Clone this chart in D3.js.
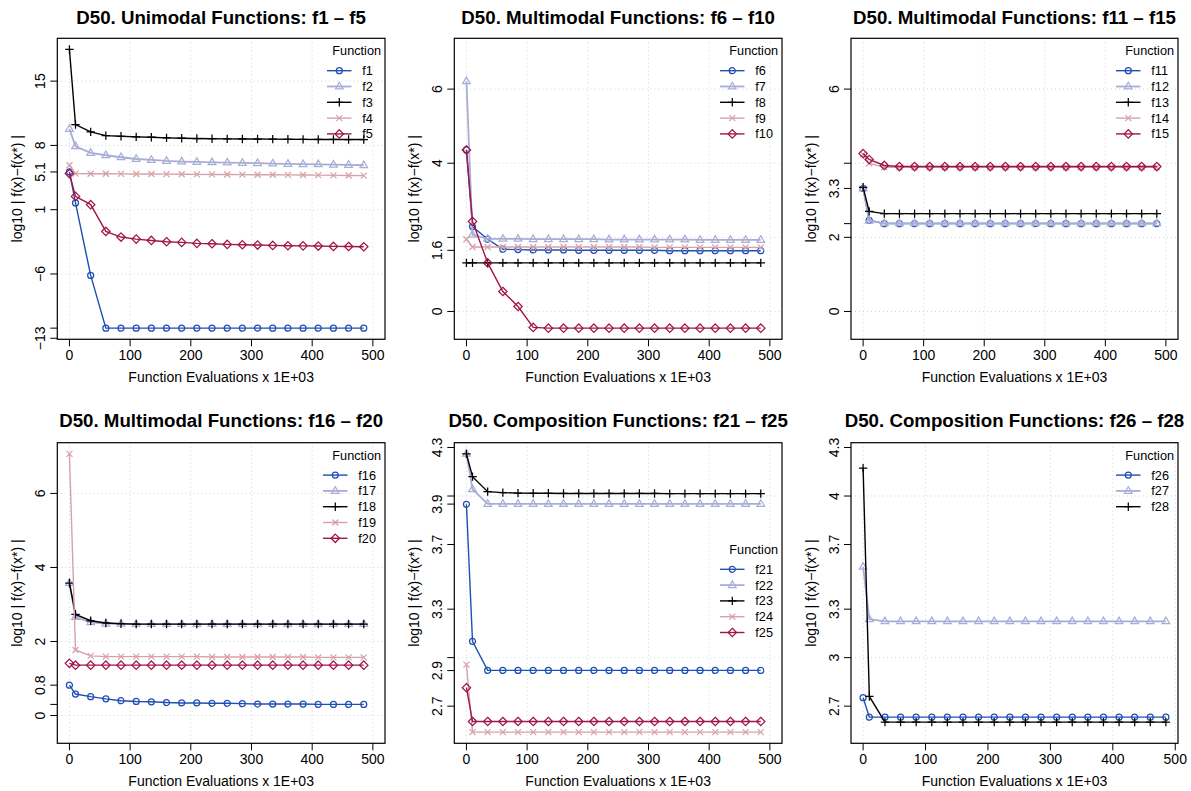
<html>
<head>
<meta charset="utf-8">
<style>
  body { margin: 0; background: #fff; }
  text { font-family: "Liberation Sans", Arial, Helvetica, sans-serif; }
</style>
</head>
<body>
<script src="https://cdn.jsdelivr.net/npm/d3@7"></script>
<script>
// function evaluations (x 1E+03)
var evals = [0,10,35,60,85,110,135,160,185,210,235,260,285,310,335,360,385,410,435,460,485];

// log10 |f(x)-f(x*)|
var f1 = [5.11,1.73,-6.16,-11.90,-11.90,-11.90,-11.90,-11.90,-11.90,-11.90,-11.90,-11.90,-11.90,-11.90,-11.90,-11.90,-11.90,-11.90,-11.90,-11.90,-11.90];
var f2 = [9.80,7.91,7.18,6.93,6.71,6.52,6.42,6.31,6.24,6.20,6.16,6.13,6.09,6.06,6.02,5.99,5.96,5.94,5.91,5.88,5.84];
var f3 = [18.45,10.27,9.47,9.07,8.99,8.93,8.89,8.82,8.78,8.75,8.73,8.71,8.70,8.69,8.68,8.67,8.66,8.65,8.65,8.64,8.64];
var f4 = [5.84,4.93,4.92,4.91,4.90,4.89,4.88,4.87,4.86,4.85,4.84,4.83,4.82,4.81,4.80,4.79,4.78,4.76,4.74,4.72,4.71];
var f5 = [4.93,2.45,1.55,-1.37,-1.98,-2.20,-2.35,-2.49,-2.56,-2.67,-2.71,-2.78,-2.82,-2.85,-2.89,-2.93,-2.94,-2.96,-3.00,-3.01,-3.04];

var f6 = [4.36,2.29,1.95,1.68,1.67,1.66,1.66,1.66,1.65,1.65,1.65,1.65,1.65,1.65,1.64,1.64,1.64,1.64,1.64,1.64,1.64];
var f7 = [6.21,2.07,1.96,1.96,1.96,1.95,1.95,1.95,1.95,1.95,1.94,1.94,1.94,1.94,1.94,1.94,1.93,1.93,1.93,1.93,1.93];
var f8 = [1.31,1.31,1.31,1.31,1.31,1.31,1.31,1.31,1.31,1.31,1.31,1.31,1.31,1.31,1.31,1.31,1.31,1.31,1.31,1.31,1.31];
var f9 = [1.95,1.74,1.74,1.74,1.74,1.74,1.74,1.74,1.74,1.74,1.74,1.74,1.74,1.73,1.73,1.73,1.73,1.73,1.73,1.73,1.73];
var f10 = [4.36,2.43,1.31,0.54,0.135,-0.43,-0.45,-0.45,-0.45,-0.45,-0.45,-0.45,-0.45,-0.45,-0.45,-0.45,-0.45,-0.45,-0.45,-0.45,-0.45];

var f11 = [3.32,2.46,2.37,2.37,2.37,2.37,2.37,2.37,2.37,2.37,2.37,2.37,2.37,2.37,2.37,2.37,2.37,2.37,2.37,2.37,2.37];
var f12 = [3.32,2.45,2.38,2.38,2.38,2.38,2.38,2.38,2.38,2.38,2.38,2.38,2.38,2.38,2.38,2.38,2.38,2.38,2.38,2.38,2.38];
var f13 = [3.35,2.70,2.64,2.64,2.64,2.64,2.64,2.64,2.64,2.64,2.64,2.64,2.64,2.64,2.64,2.64,2.64,2.64,2.64,2.64,2.64];
var f14 = [4.24,4.00,3.89,3.89,3.89,3.89,3.89,3.89,3.89,3.89,3.89,3.89,3.89,3.89,3.89,3.89,3.89,3.89,3.89,3.89,3.89];
var f15 = [4.26,4.10,3.94,3.91,3.91,3.91,3.91,3.91,3.91,3.91,3.91,3.91,3.91,3.91,3.91,3.91,3.91,3.91,3.91,3.91,3.91];

var f16 = [0.82,0.58,0.51,0.45,0.40,0.38,0.37,0.35,0.34,0.34,0.33,0.33,0.32,0.31,0.31,0.31,0.31,0.30,0.30,0.30,0.30];
var f17 = [3.58,2.66,2.52,2.48,2.48,2.47,2.47,2.47,2.47,2.47,2.47,2.47,2.47,2.47,2.47,2.47,2.47,2.47,2.47,2.47,2.47];
var f18 = [3.58,2.73,2.56,2.50,2.48,2.47,2.47,2.47,2.47,2.47,2.47,2.47,2.47,2.47,2.47,2.47,2.47,2.47,2.47,2.47,2.47];
var f19 = [7.07,1.77,1.61,1.59,1.59,1.59,1.59,1.59,1.59,1.59,1.58,1.58,1.58,1.58,1.58,1.58,1.58,1.57,1.57,1.57,1.57];
var f20 = [1.41,1.36,1.36,1.36,1.36,1.36,1.36,1.36,1.36,1.36,1.36,1.36,1.36,1.36,1.36,1.36,1.36,1.36,1.36,1.36,1.36];

var f21 = [3.949,3.101,2.921,2.921,2.921,2.921,2.921,2.921,2.921,2.921,2.921,2.921,2.921,2.921,2.921,2.921,2.921,2.921,2.921,2.921,2.921];
var f22 = [4.261,4.042,3.951,3.951,3.951,3.951,3.951,3.951,3.951,3.951,3.951,3.951,3.951,3.951,3.951,3.951,3.951,3.951,3.951,3.951,3.951];
var f23 = [4.261,4.120,4.027,4.021,4.018,4.017,4.017,4.016,4.016,4.016,4.016,4.016,4.016,4.016,4.015,4.015,4.015,4.015,4.015,4.015,4.015];
var f24 = [2.957,2.539,2.539,2.539,2.539,2.539,2.539,2.539,2.539,2.539,2.539,2.539,2.539,2.539,2.539,2.539,2.539,2.539,2.539,2.539,2.539];
var f25 = [2.814,2.605,2.605,2.605,2.605,2.605,2.605,2.605,2.605,2.605,2.605,2.605,2.605,2.605,2.605,2.605,2.605,2.605,2.605,2.605,2.605];

var f26 = [2.752,2.632,2.632,2.632,2.632,2.632,2.632,2.632,2.632,2.632,2.632,2.632,2.632,2.632,2.632,2.632,2.632,2.632,2.632,2.632,2.632];
var f27 = [3.562,3.238,3.225,3.225,3.225,3.225,3.225,3.225,3.225,3.225,3.225,3.225,3.225,3.225,3.225,3.225,3.225,3.225,3.225,3.225,3.225];
var f28 = [4.172,2.760,2.601,2.601,2.601,2.601,2.601,2.601,2.601,2.601,2.601,2.601,2.601,2.601,2.601,2.601,2.601,2.601,2.601,2.601,2.601];

var xTicks = [0,100,200,300,400,500];
var colors = ["#1f4fb3","#a9add6","#000000","#d6a2aa","#a0154b"];

// y ticks of each panel (labels that R dropped for overlap are "")
var yTicks1 = [15,8,5.11,1,-6,-11.9,-13];   var yLab1 = ["15","8","5.1","1","\u22126","","\u221213"];
var yTicks2 = [6,4,2,1.65,0];               var yLab2 = ["6","4","","1.6","0"];
var yTicks3 = [6,4,3.32,2.37,2,0];          var yLab3 = ["6","","3.3","","2","0"];
var yTicks4 = [6,4,2,0.82,0.30,0];          var yLab4 = ["6","4","2","0.8","","0"];
var yTicks5 = [4.3,4,3.95,3.7,3.3,3,2.92,2.7]; var yLab5 = ["4.3","","3.9","3.7","3.3","","2.9","2.7"];
var yTicks6 = [4.3,4,3.7,3.3,3,2.7];        var yLab6 = ["4.3","4","3.7","3.3","3","2.7"];
var yGrid1 = [-13,-6,1,8,15];
var yGrid2 = [0,2,4,6];
var yGrid3 = [3,4];

var uni = [f1,f2,f3,f4,f5];
var multi = [f6,f7,f8,f9,f10,f11,f12,f13,f14,f15,f16,f17,f18,f19,f20];
var comp = [f21,f22,f23,f24,f25,f26,f27,f28];

var panels = [
  {title:"D50. Unimodal Functions: f1 \u2013 f5", names:["f1","f2","f3","f4","f5"], series:[f1,f2,f3,f4,f5], group:uni, xMax:500, yt:yTicks1, yl:yLab1, grid:yGrid1, leg:"top"},
  {title:"D50. Multimodal Functions: f6 \u2013 f10", names:["f6","f7","f8","f9","f10"], series:[f6,f7,f8,f9,f10], group:multi, xMax:500, yt:yTicks2, yl:yLab2, grid:yGrid2, leg:"top"},
  {title:"D50. Multimodal Functions: f11 \u2013 f15", names:["f11","f12","f13","f14","f15"], series:[f11,f12,f13,f14,f15], group:multi, xMax:500, yt:yTicks3, yl:yLab3, grid:yGrid2, leg:"top"},
  {title:"D50. Multimodal Functions: f16 \u2013 f20", names:["f16","f17","f18","f19","f20"], series:[f16,f17,f18,f19,f20], group:multi, xMax:500, yt:yTicks4, yl:yLab4, grid:yGrid2, leg:"top"},
  {title:"D50. Composition Functions: f21 \u2013 f25", names:["f21","f22","f23","f24","f25"], series:[f21,f22,f23,f24,f25], group:comp, xMax:500, yt:yTicks5, yl:yLab5, grid:yGrid3, leg:"mid"},
  {title:"D50. Composition Functions: f26 \u2013 f28", names:["f26","f27","f28"], series:[f26,f27,f28], group:comp, xMax:485, yt:yTicks6, yl:yLab6, grid:yGrid3, leg:"top"}
];

var cols = [{l:57.3,r:385},{l:454.3,r:782},{l:851,r:1178}];
var rows = [{t:38.3,b:339.3,tt:23.5},{t:442.7,b:743.3,tt:427}];

function ext(lo, hi) { var d = (hi-lo)*0.04; return [lo-d, hi+d]; }

function marker(k, cx, cy) {
  if (k==0) { var r=3; return "M"+(cx-r)+","+cy+"a"+r+","+r+" 0 1,0 "+(2*r)+",0a"+r+","+r+" 0 1,0 "+(-2*r)+",0"; }
  if (k==1) return "M"+cx+","+(cy-4.2)+"L"+(cx+3.8)+","+(cy+2.4)+"L"+(cx-3.8)+","+(cy+2.4)+"Z";
  if (k==2) return "M"+(cx-4.2)+","+cy+"H"+(cx+4.2)+"M"+cx+","+(cy-4.2)+"V"+(cy+4.2);
  if (k==3) return "M"+(cx-3)+","+(cy-3)+"L"+(cx+3)+","+(cy+3)+"M"+(cx-3)+","+(cy+3)+"L"+(cx+3)+","+(cy-3);
  return "M"+cx+","+(cy-4.2)+"L"+(cx+4.2)+","+cy+"L"+cx+","+(cy+4.2)+"L"+(cx-4.2)+","+cy+"Z";
}

var svg = d3.select("body").append("svg").attr("width",1191).attr("height",791);

panels.forEach(function(p, i) {
  var c = cols[i%3], rw = rows[Math.floor(i/3)];
  var all = d3.merge(p.group);
  var x = d3.scaleLinear().domain(ext(0, p.xMax)).range([c.l, c.r]);
  var y = d3.scaleLinear().domain(ext(d3.min(all), d3.max(all))).range([rw.b, rw.t]);
  var g = svg.append("g");

  // grid
  g.selectAll(".gx").data(xTicks).join("line")
    .attr("x1",d=>x(d)).attr("x2",d=>x(d)).attr("y1",rw.t).attr("y2",rw.b)
    .attr("stroke","#d3d3d3").attr("stroke-dasharray","1,3");
  g.selectAll(".gy").data(p.grid).join("line")
    .attr("x1",c.l).attr("x2",c.r).attr("y1",d=>y(d)).attr("y2",d=>y(d))
    .attr("stroke","#d3d3d3").attr("stroke-dasharray","1,3");

  // series
  var line = d3.line().x((d,j)=>x(evals[j])).y(d=>y(d));
  p.series.forEach(function(s, k) {
    g.append("path").attr("d", line(s)).attr("fill","none")
      .attr("stroke", colors[k]).attr("stroke-width", k==1 ? 1.8 : 1.4);
    g.selectAll(null).data(s).join("path")
      .attr("d",(d,j)=>marker(k, x(evals[j]), y(d)))
      .attr("fill","none").attr("stroke",colors[k]).attr("stroke-width",1.25);
  });

  // box
  g.append("rect").attr("x",c.l).attr("y",rw.t).attr("width",c.r-c.l).attr("height",rw.b-rw.t)
    .attr("fill","none").attr("stroke","#000").attr("stroke-width",1.2);

  // x axis
  g.selectAll(".tx").data(xTicks).join("line")
    .attr("x1",d=>x(d)).attr("x2",d=>x(d)).attr("y1",rw.b).attr("y2",rw.b+7).attr("stroke","#000");
  g.selectAll(".lx").data(xTicks).join("text")
    .attr("x",d=>x(d)).attr("y",rw.b+21).attr("text-anchor","middle").attr("font-size",14)
    .text(d=>d);
  g.append("text").attr("x",(c.l+c.r)/2).attr("y",rw.b+43).attr("text-anchor","middle")
    .attr("font-size",14).text("Function Evaluations x 1E+03");

  // y axis
  g.selectAll(".ty").data(p.yt).join("line")
    .attr("x1",c.l-7).attr("x2",c.l).attr("y1",d=>y(d)).attr("y2",d=>y(d)).attr("stroke","#000");
  g.selectAll(".ly").data(p.yt).join("text")
    .attr("transform",d=>"translate("+(c.l-12.3)+","+y(d)+") rotate(-90)")
    .attr("text-anchor","middle").attr("font-size",14)
    .text((d,j)=>p.yl[j]);
  g.append("text").attr("transform","translate("+(c.l-35)+","+((rw.t+rw.b)/2)+") rotate(-90)")
    .attr("text-anchor","middle").attr("font-size",14)
    .text("log10 | f(x)\u2212f(x*) |");

  // title
  g.append("text").attr("x",(c.l+c.r)/2).attr("y",rw.tt).attr("text-anchor","middle")
    .attr("font-size",18.7).attr("font-weight","bold").text(p.title);

  // legend
  var maxLen = d3.max(p.names, d=>d.length);
  var tx = c.r - (maxLen >= 3 ? 26.7 : 22.7);
  var ly = p.leg == "top" ? rw.t + 12.4 : (rw.t+rw.b)/2 - 43.7;
  g.append("text").attr("x",c.r-4).attr("y",ly+4.5).attr("text-anchor","end")
    .attr("font-size",12.7).text("Function");
  p.names.forEach(function(nm, k) {
    var yy = ly + 20 + 15.8*k;
    g.append("line").attr("x1",tx-35.3).attr("x2",tx-10.8).attr("y1",yy).attr("y2",yy)
      .attr("stroke",colors[k]).attr("stroke-width", k==1 ? 1.8 : 1.4);
    g.append("path").attr("d",marker(k, tx-23, yy)).attr("fill","none")
      .attr("stroke",colors[k]).attr("stroke-width",1.25);
    g.append("text").attr("x",tx).attr("y",yy+4.5).attr("font-size",12.7).text(nm);
  });
});
</script>
</body>
</html>
